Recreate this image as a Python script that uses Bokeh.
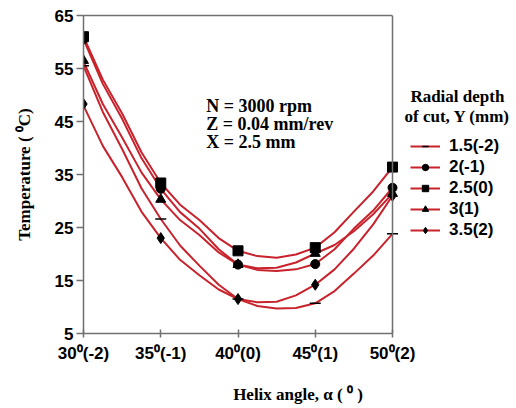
from bokeh.plotting import figure
from bokeh.models import Range1d, Legend, LegendItem, Label, FixedTicker, Span, LinearAxis
from bokeh.embed import file_html
from bokeh.resources import INLINE

# ---- data ----
helix = [30, 35, 40, 45, 50]
x_tick_labels = ["30⁰(-2)", "35⁰(-1)", "40⁰(0)", "45⁰(1)", "50⁰(2)"]
y_ticks = [5, 15, 25, 35, 45, 55, 65]
series_names = ["1.5(-2)", "2(-1)", "2.5(0)", "3(1)", "3.5(2)"]

# measured points (markers)
temp_15 = [55.5, 26.6, 11.5, 10.7, 23.8]
temp_20 = [60.5, 32.3, 18.0, 18.1, 32.5]
temp_25 = [61.0, 33.4, 20.6, 21.2, 36.4]
temp_30 = [56.5, 30.3, 18.0, 20.1, 31.4]
temp_35 = [48.3, 23.0, 11.5, 14.2, 31.0]

# fitted curves
curve_x = [30, 31.25, 32.5, 33.75, 35, 36.25, 37.5, 38.75, 40,
           41.25, 42.5, 43.75, 45, 46.25, 47.5, 48.75, 50]
curve_15 = [55.5, 46.8, 39.8, 32.4, 26.6, 21.6, 17.8, 14.2, 11.5,
            10.2, 9.7, 9.8, 10.7, 13.0, 16.3, 19.7, 23.8]
curve_20 = [60.5, 52.1, 45.5, 38.1, 32.3, 27.9, 24.8, 20.9, 18.0,
            17.0, 16.8, 17.1, 18.1, 20.9, 24.8, 28.2, 32.5]
curve_25 = [61.0, 52.9, 46.5, 39.2, 33.4, 29.3, 26.4, 23.0, 20.6,
            19.6, 19.3, 19.9, 21.2, 24.1, 28.0, 31.8, 36.4]
curve_30 = [56.3, 48.3, 42.0, 35.4, 30.3, 26.4, 23.6, 20.3, 18.0,
            17.3, 17.4, 18.4, 20.1, 21.7, 24.3, 27.5, 31.4]
curve_35 = [48.0, 40.4, 34.5, 28.0, 23.0, 18.9, 16.0, 13.3, 11.5,
            10.9, 11.0, 12.2, 14.2, 17.1, 21.0, 25.6, 31.0]

info_lines = ["N = 3000 rpm", "Z = 0.04 mm/rev", "X = 2.5 mm"]
legend_title = ["Radial depth", "of cut, Y (mm)"]

line_color = "#c8232c"
axis_color = "#707070"
sans = "Liberation Sans"
serif = "Liberation Serif"

W, H = 512, 406
LEFT, TOP, BOTTOM = 83, 15, 68
px_per_x = 309 / 20.0
x_end = 30 + (W - LEFT) / px_per_x

p = figure(width=W, height=H, output_backend="svg", toolbar_location=None,
           x_range=Range1d(30, x_end), y_range=Range1d(5, 65),
           min_border_left=LEFT, min_border_right=0, min_border_top=TOP,
           min_border_bottom=BOTTOM)
p.grid.visible = False
p.outline_line_color = None
p.background_fill_color = "white"
p.border_fill_color = "white"

# axes
xa = p.xaxis[0]
xa.ticker = FixedTicker(ticks=helix)
xa.bounds = (30, 50)
xa.major_label_overrides = {h: lab for h, lab in zip(helix, x_tick_labels)}
xa.minor_tick_line_color = None
xa.major_tick_in = 4
xa.major_tick_out = 4
xa.major_label_standoff = 6
xa.axis_label = "Helix angle, α ( ⁰ )"
xa.axis_label_standoff = 19

ya = p.yaxis[0]
ya.ticker = FixedTicker(ticks=y_ticks)
ya.minor_tick_line_color = None
ya.major_tick_in = 0
ya.major_tick_out = 7
ya.major_label_standoff = 3
ya.axis_label = "Temperature ( ⁰C)"
ya.axis_label_standoff = 18

for ax in (xa, ya):
    ax.axis_line_color = axis_color
    ax.axis_line_width = 1.5
    ax.major_tick_line_color = axis_color
    ax.major_tick_line_width = 1.5
    ax.major_label_text_font = sans
    ax.major_label_text_font_style = "bold"
    ax.major_label_text_font_size = "17px"
    ax.major_label_text_color = "black"
    ax.axis_label_text_font = serif
    ax.axis_label_text_font_style = "bold"
    ax.axis_label_text_font_size = "17px"
    ax.axis_label_text_color = "black"

# top frame line (axis without ticks/labels) and right frame line
top_ax = LinearAxis(bounds=(30, 50), ticker=FixedTicker(ticks=[]),
                    axis_line_color=axis_color, axis_line_width=1.5,
                    major_tick_line_color=None, minor_tick_line_color=None,
                    major_label_text_font_size="0px", major_label_standoff=0,
                    major_tick_in=0, major_tick_out=0)
p.add_layout(top_ax, "above")
p.add_layout(Span(location=50, dimension="height", line_color=axis_color, line_width=1.5))

# curves
curves = [curve_15, curve_20, curve_25, curve_30, curve_35]
temps = [temp_15, temp_20, temp_25, temp_30, temp_35]
markers = ["dash", "circle", "square", "triangle", "diamond"]
sizes = [11, 9, 10, 10, 11]

line_rs = []
for c in curves:
    line_rs.append(p.line(curve_x, c, line_color=line_color, line_width=2))

mark_rs = []
for t, m, s in zip(temps, markers, sizes):
    mark_rs.append(p.scatter(helix, t, marker=m, size=s, fill_color="black",
                             line_color="black", line_width=1.5 if m == "dash" else 1))

items = [LegendItem(label=n, renderers=[lr, mr])
         for n, lr, mr in zip(series_names, line_rs, mark_rs)]
legend = Legend(items=items, location=(327, 93), padding=0, margin=0,
                glyph_width=30, glyph_height=16, label_height=16, spacing=1,
                label_standoff=9, border_line_color=None, background_fill_alpha=0,
                label_text_font=sans, label_text_font_style="bold",
                label_text_font_size="17px", label_text_color="black")
p.add_layout(legend, "center")

# info text inside the plot
for i, txt in enumerate(info_lines):
    p.add_layout(Label(x=37.95, y=48.0 - i * 3.45, text=txt, text_font=serif,
                       text_font_style="bold", text_font_size="18px",
                       text_baseline="middle", text_align="left", text_color="black"))

# legend title
for i, txt in enumerate(legend_title):
    p.add_layout(Label(x=54.2, y=49.8 - i * 3.9, text=txt, text_font=serif,
                       text_font_style="bold", text_font_size="17px",
                       text_baseline="middle", text_align="center", text_color="black"))

open("out.html", "w").write(file_html(p, INLINE))
